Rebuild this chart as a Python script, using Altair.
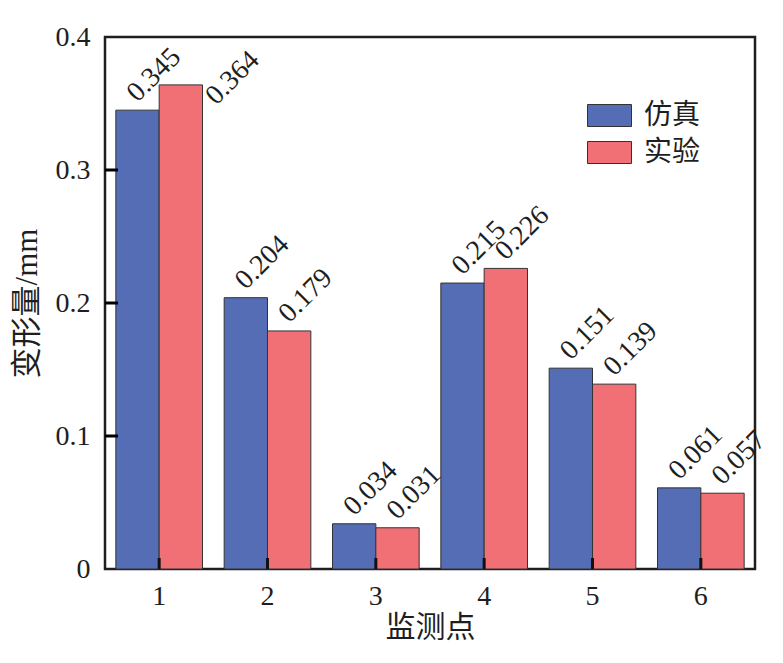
import altair as alt
import pandas as pd

points = ["1", "2", "3", "4", "5", "6"]
series = ["仿真", "实验"]
sim = [0.345, 0.204, 0.034, 0.215, 0.151, 0.061]
exp = [0.364, 0.179, 0.031, 0.226, 0.139, 0.057]
colors = ["#546DB4", "#F07076"]
yticks = [0.0, 0.1, 0.2, 0.3, 0.4]

rows = []
for i, p in enumerate(points):
    rows.append({"point": p, "series": series[0], "value": sim[i], "label": f"{sim[i]:.3f}"})
    rows.append({"point": p, "series": series[1], "value": exp[i], "label": f"{exp[i]:.3f}"})
df = pd.DataFrame(rows)

FONT = "Liberation Serif, Noto Sans CJK SC"
INK = "#1e1e1e"

xenc = alt.X("point:N", sort=points,
             scale=alt.Scale(paddingInner=0.2, paddingOuter=0.1),
             axis=alt.Axis(title="监测点", labelAngle=0, ticks=False, domain=False,
                           labelPadding=13, titlePadding=2, labelFontSize=28,
                           titleFontSize=30, labelColor=INK, titleColor=INK,
                           labelFont=FONT, titleFont=FONT, titleFontWeight="normal"))
yenc = alt.Y("value:Q", scale=alt.Scale(domain=[0, 0.4], nice=False),
             axis=alt.Axis(title="变形量/mm", values=yticks, ticks=False, domain=False,
                           grid=False, labelPadding=15, titlePadding=12,
                           labelFontSize=28, titleFontSize=31, labelColor=INK,
                           titleColor=INK, labelFont=FONT, titleFont=FONT,
                           titleFontWeight="normal",
                           labelExpr="datum.value == 0 ? '0' : format(datum.value, '.1f')"))
xoff = alt.XOffset("series:N", sort=series, scale=alt.Scale(paddingInner=0, paddingOuter=0))

base = alt.Chart(df)

bars = base.mark_bar(stroke="#333", strokeWidth=1).encode(
    x=xenc, y=yenc, xOffset=xoff,
    color=alt.Color("series:N", sort=series,
                    scale=alt.Scale(domain=series, range=colors),
                    legend=alt.Legend(title=None, orient="none", legendX=482, legendY=56,
                                      symbolType="M-1,-0.5L1,-0.5L1,0.5L-1,0.5Z",
                                      symbolSize=1936, symbolStrokeColor="#333",
                                      symbolStrokeWidth=1, symbolOpacity=1,
                                      labelFontSize=28, labelFont=FONT, labelColor=INK,
                                      labelOffset=12, rowPadding=0, padding=0,
                                      labelLimit=200)),
)

# regular labels above the bars (dx/dy act in the rotated frame)
labels = base.transform_filter("datum.value <= 0.355").mark_text(
    angle=315, align="left", baseline="alphabetic",
    fontSize=28, font=FONT, color=INK, dx=5, dy=-5).encode(
    x=alt.X("point:N", sort=points), y="value:Q", xOffset=xoff, text="label:N")

# labels too close to the frame top are nudged down beside the bar
labels_hi = base.transform_filter("datum.value > 0.355").mark_text(
    angle=315, align="left", baseline="alphabetic",
    fontSize=28, font=FONT, color=INK, dx=10, dy=40).encode(
    x=alt.X("point:N", sort=points), y="value:Q", xOffset=xoff, text="label:N")

# inward ticks
yt = alt.Chart(pd.DataFrame({"v": yticks[1:4]})).mark_rule(
    color="#000", strokeWidth=3).encode(
    y=alt.Y("v:Q"), x=alt.value(0), x2=alt.value(13))

xt = base.transform_filter(alt.datum.series == series[0]).mark_rule(
    color="#111", strokeWidth=3).encode(
    x=alt.X("point:N", sort=points), y=alt.value(532), y2=alt.value(521))

chart = alt.layer(bars, labels, labels_hi, yt, xt).properties(
    width=650, height=532,
    autosize=alt.AutoSizeParams(type="none"),
    padding={"left": 97, "top": 29, "right": 20, "bottom": 80},
    background="white",
).configure_view(stroke=INK, strokeWidth=2.5)

chart.save("out.html", embed_options={"renderer": "svg", "actions": False})
